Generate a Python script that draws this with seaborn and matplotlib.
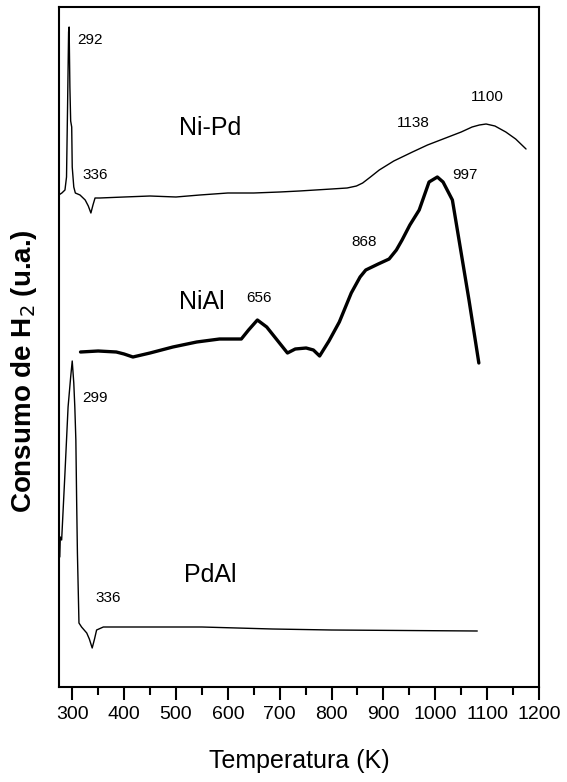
import pandas as pd
import seaborn as sns
import matplotlib.pyplot as plt

# TPR profiles, temperature (K) vs H2 consumption (a.u., stacked)
nipd_T = [274, 280, 286, 289, 291, 293, 294, 295.5, 297, 299, 300, 303, 306, 315, 325, 331, 336,
          340, 344, 353, 400, 450, 500, 546, 600, 650, 700, 738, 800, 830, 848, 860, 875, 892,
          920, 956, 985, 1020, 1050, 1071, 1085, 1098, 1115, 1136, 1155, 1175]
nipd_y = [492, 494, 497, 510, 580, 655, 660, 600, 566, 560, 520, 500, 494, 492, 487, 481, 474,
          482, 489, 489, 490, 491, 490, 492, 494, 494, 495, 496, 498, 499, 501, 504, 510, 517,
          526, 535, 542, 549, 555, 560, 562, 563, 561, 555, 548, 538]

nial_T = [316, 350, 385, 400, 417, 450, 494, 540, 584, 626, 640, 657, 675, 695, 715, 730, 751,
          765, 777, 795, 815, 838, 855, 866, 890, 911, 925, 936, 951, 969, 988, 1004, 1015,
          1027, 1033, 1049, 1065, 1078, 1084]
nial_y = [335, 336, 335, 333, 330, 334, 340, 345, 348, 348, 357, 367, 360, 347, 334, 338, 339,
          337, 331, 346, 365, 394, 410, 417, 423, 428, 437, 447, 462, 477, 505, 510, 505,
          493, 487, 437, 387, 344, 324]

pdal_T = [276, 277, 279.6, 286, 292, 297, 300, 303, 305, 307, 308.5, 310, 313, 318, 328, 333,
          338.5, 343, 347, 360, 450, 550, 686, 800, 1081]
pdal_y = [130, 150, 147, 214, 280, 310, 326, 304, 280, 247, 187, 134, 64, 60, 54, 48,
          39, 48, 57, 60, 60, 60, 58, 57, 56]

df = pd.concat([
    pd.DataFrame({"T": nipd_T, "h2": nipd_y, "muestra": "Ni-Pd"}),
    pd.DataFrame({"T": nial_T, "h2": nial_y, "muestra": "NiAl"}),
    pd.DataFrame({"T": pdal_T, "h2": pdal_y, "muestra": "PdAl"}),
])

sns.set_style("ticks")
plt.rcParams["font.family"] = ["Liberation Sans", "DejaVu Sans"]
plt.rcParams["text.color"] = "black"
plt.rcParams["axes.labelcolor"] = "black"
plt.rcParams["xtick.color"] = "black"
plt.rcParams["xtick.labelcolor"] = "black"

fig = plt.figure(figsize=(5.67, 7.82), dpi=100)
ax = fig.add_axes([59/567, 95/782, 480/567, 680/782])

widths = {"Ni-Pd": 1.0, "NiAl": 2.4, "PdAl": 1.0}
for name, lw in widths.items():
    sns.lineplot(data=df[df["muestra"] == name], x="T", y="h2", color="black",
                 linewidth=lw, estimator=None, ax=ax)

# peak labels
ax.text(333.5, 647, "292", fontsize=11, ha="center", va="center")
ax.text(343.7, 512, "336", fontsize=11, ha="center", va="center")
ax.text(957, 564, "1138", fontsize=11, ha="center", va="center")
ax.text(1100, 590, "1100", fontsize=11, ha="center", va="center")
ax.text(660.6, 389, "656", fontsize=11, ha="center", va="center")
ax.text(863, 445, "868", fontsize=11, ha="center", va="center")
ax.text(1057.5, 512, "997", fontsize=11, ha="center", va="center")
ax.text(343.7, 289, "299", fontsize=11, ha="center", va="center")
ax.text(368.7, 89, "336", fontsize=11, ha="center", va="center")

# sample names
ax.text(566.7, 559, "Ni-Pd", fontsize=18, ha="center", va="center")
ax.text(549.6, 385, "NiAl", fontsize=18, ha="center", va="center")
ax.text(566.9, 112, "PdAl", fontsize=18, ha="center", va="center")

ax.set_xlim(274.5, 1200)
ax.set_ylim(0, 680)
ax.set_xticks(range(300, 1201, 100))
ax.set_xticks(range(350, 1200, 100), minor=True)
ax.set_yticks([])
ax.tick_params(axis="x", which="major", direction="out", length=9.5, width=1.5,
               labelsize=14, pad=4, colors="black")
ax.tick_params(axis="x", which="minor", direction="out", length=6, width=1.5,
               colors="black")
for s in ax.spines.values():
    s.set_linewidth(1.5)
    s.set_color("black")

ax.set_xlabel("Temperatura (K)", fontsize=18, color="black")
ax.xaxis.set_label_coords(0.5, -0.091)
ax.set_ylabel("Consumo de H$_2$ (u.a.)", fontsize=20, fontweight="bold", color="black")
ax.yaxis.set_label_coords(-0.042, 0.465)

fig.savefig("out.png", dpi=100)
